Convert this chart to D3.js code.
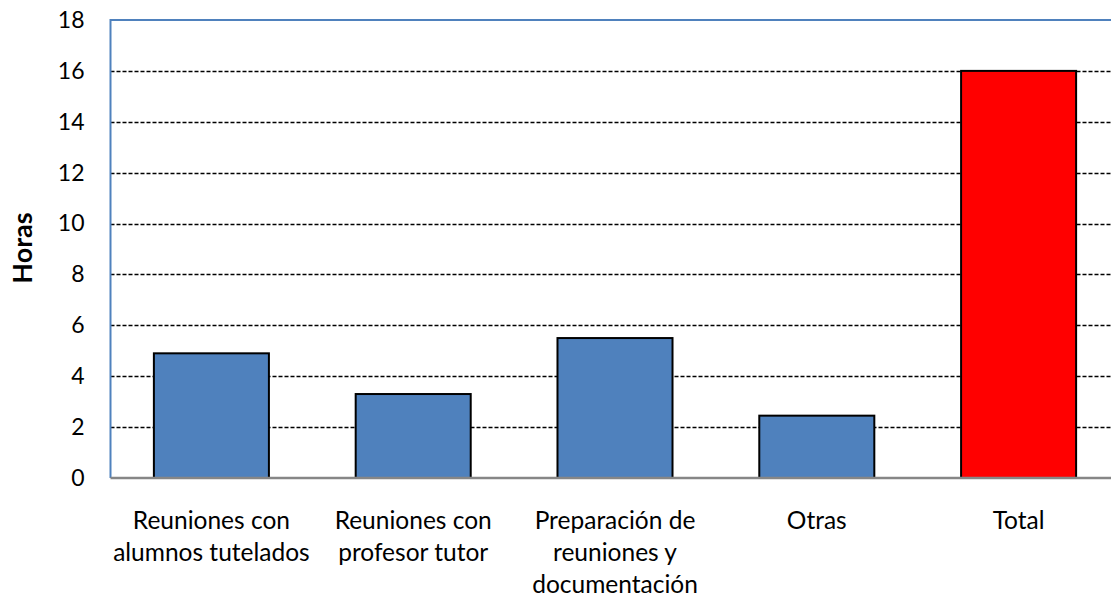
<!DOCTYPE html>
<html>
<head>
<meta charset="utf-8">
<script src="https://cdn.jsdelivr.net/npm/d3@7/dist/d3.min.js"></script>
<style>
  body { margin: 0; background: #fff; }
  text { font-family: Lato, "Open Sans", sans-serif; fill: #000; font-weight: 400; }
</style>
</head>
<body>
<script>
const categories = [
  ['Reuniones con', 'alumnos tutelados'],
  ['Reuniones con', 'profesor tutor'],
  ['Preparación de', 'reuniones y', 'documentación'],
  ['Otras'],
  ['Total']
];
const values = [4.9, 3.3, 5.5, 2.45, 16];
const barColors = ['#4F81BD', '#4F81BD', '#4F81BD', '#4F81BD', '#FF0000'];
const yTicks = [0, 2, 4, 6, 8, 10, 12, 14, 16, 18];
const yTitle = 'Horas';

const svgWidth = 1111;
const svgHeight = 599;
const plot = { left: 110.5, top: 20, right: 1119.5, bottom: 478 };

const svg = d3.select('body')
  .append('svg')
  .attr('width', svgWidth)
  .attr('height', svgHeight);

const keys = categories.map((d, i) => i);

const x = d3.scaleBand()
  .domain(keys)
  .range([plot.left, plot.right])
  .paddingInner(0.43)
  .paddingOuter(0.215);

const y = d3.scaleLinear()
  .domain([0, 18])
  .range([plot.bottom, plot.top]);

// gridlines
svg.append('g')
  .selectAll('line')
  .data(yTicks.filter(t => t > 0 && t < 18))
  .join('line')
    .attr('x1', plot.left)
    .attr('x2', plot.right)
    .attr('y1', d => Math.round(y(d)) + 0.5)
    .attr('y2', d => Math.round(y(d)) + 0.5)
    .attr('stroke', '#000')
    .attr('stroke-width', 1.3)
    .attr('stroke-dasharray', '4,2');

// bars
svg.append('g')
  .selectAll('rect')
  .data(values)
  .join('rect')
    .attr('x', (d, i) => x(i))
    .attr('y', d => y(d))
    .attr('width', x.bandwidth())
    .attr('height', d => y(0) - y(d))
    .attr('fill', (d, i) => barColors[i])
    .attr('stroke', '#000')
    .attr('stroke-width', 2);

// plot border (top + left blue)
svg.append('path')
  .attr('d', `M${plot.left},${plot.bottom}V${plot.top}H${plot.right}`)
  .attr('fill', 'none')
  .attr('stroke', '#4F81BD')
  .attr('stroke-width', 2);

// bottom axis line
svg.append('line')
  .attr('x1', plot.left)
  .attr('x2', plot.right)
  .attr('y1', plot.bottom)
  .attr('y2', plot.bottom)
  .attr('stroke', '#868686')
  .attr('stroke-width', 2.5);

// y axis labels
const yAxis = d3.axisLeft(y).tickValues(yTicks).tickSize(0).tickPadding(26);
const yg = svg.append('g')
  .attr('transform', `translate(${plot.left},0)`)
  .call(yAxis);
yg.select('.domain').remove();
yg.selectAll('text')
  .attr('font-size', 23)
  .attr('font-family', 'Lato, "Open Sans", sans-serif')
  .attr('fill', '#000');

// y title
svg.append('text')
  .attr('transform', `translate(32,248) rotate(-90)`)
  .attr('text-anchor', 'middle')
  .attr('font-size', 27)
  .style('font-weight', 'bold')
  .text(yTitle);

// category labels
const xg = svg.append('g');
categories.forEach((lines, i) => {
  const t = xg.append('text')
    .attr('x', x(i) + x.bandwidth() / 2)
    .attr('y', 529)
    .attr('text-anchor', 'middle')
    .attr('font-size', 24.5);
  lines.forEach((line, j) => {
    t.append('tspan')
      .attr('x', x(i) + x.bandwidth() / 2)
      .attr('dy', j === 0 ? 0 : 32)
      .text(line);
  });
});
</script>
</body>
</html>
